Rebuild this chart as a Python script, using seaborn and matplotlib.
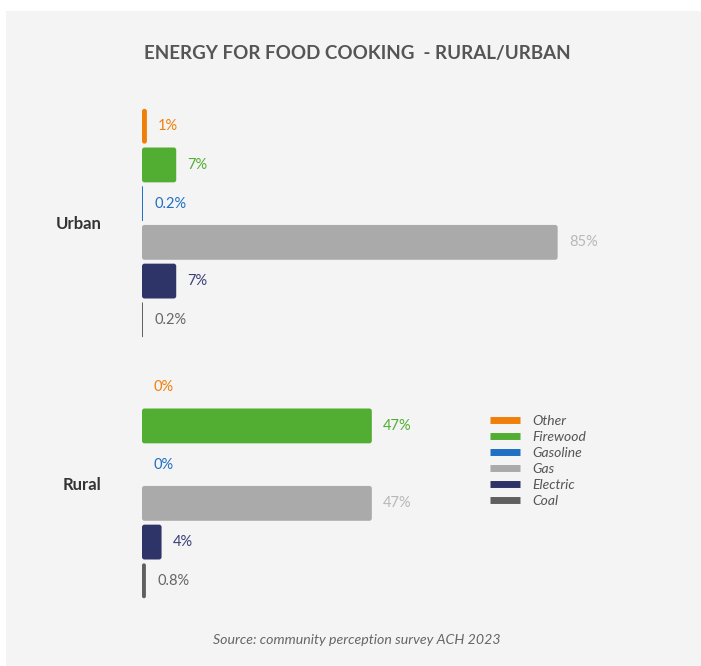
import matplotlib
matplotlib.use("Agg")
import matplotlib.pyplot as plt
from matplotlib.patches import Rectangle, FancyBboxPatch
from matplotlib.lines import Line2D
import pandas as pd
import seaborn as sns

# Survey data: share of households by cooking energy source
areas = ["Urban", "Rural"]
sources = ["Other", "Firewood", "Gasoline", "Gas", "Electric", "Coal"]
urban_values = [1, 7, 0.2, 85, 7, 0.2]
rural_values = [0, 47, 0, 47, 4, 0.8]

bar_colors = ["#f07f09", "#52ae32", "#1f6fc5", "#aaaaaa", "#2f3468", "#5f5f5f"]
label_colors = ["#f07f09", "#52ae32", "#1f6fc5", "#b8b8b8", "#3a3f78", "#666666"]

df = pd.DataFrame({
    "area": ["Urban"] * len(sources) + ["Rural"] * len(sources),
    "source": sources * 2,
    "value": urban_values + rural_values,
})

sns.set_theme(style="white")
plt.rcParams["font.family"] = ["Lato", "DejaVu Sans"]

W, H = 701, 666
fig = plt.figure(figsize=(W / 100, H / 100), dpi=100, facecolor="white")
fig.patches.append(Rectangle((6 / W, 0), 1 - 6 / W, 1 - 11 / H,
                             transform=fig.transFigure, facecolor="#f4f4f4",
                             edgecolor="none", zorder=-10))

# category spacing: Urban centred at 223 px, Rural at 484 px
top_px, bot_px = 66.4, 640.6
left_px, right_px = 142, 631
ax = fig.add_axes([left_px / W, 1 - bot_px / H,
                   (right_px - left_px) / W, (bot_px - top_px) / H])
ax.set_facecolor("none")

sns.barplot(data=df, y="area", x="value", hue="source", order=areas,
            hue_order=sources, palette=bar_colors, orient="h",
            width=0.89, gap=0.1, saturation=1, linewidth=0,
            legend=False, ax=ax)

ax.set_xlim(0, 100)
ax.set_ylim(1.6, -0.6)
for s in ax.spines.values():
    s.set_visible(False)
ax.set_xticks([])
ax.set_xlabel("")
ax.set_ylabel("")
ax.tick_params(axis="y", length=0, pad=29)
for t in ax.get_yticklabels():
    t.set_fontsize(12)
    t.set_fontweight("bold")
    t.set_color("#333333")

for cont, col in zip(ax.containers, label_colors):
    vals = [p.get_width() for p in cont]
    ax.bar_label(cont, labels=[f"{v:g}%" for v in vals], padding=8,
                 color=col, fontsize=10.5)

# swap the square bars for ones with softly rounded corners
px_per_x = (right_px - left_px) / 100.0
px_per_y = (bot_px - top_px) / 2.2
aspect = px_per_x / px_per_y
radius = 2.5 / px_per_x
for cont in ax.containers:
    for p in list(cont):
        x, y, w, h = p.get_x(), p.get_y(), p.get_width(), p.get_height()
        p.set_visible(False)
        if w <= 0:
            continue
        r = min(radius, w / 2)
        ax.add_patch(FancyBboxPatch((x, y), w, h,
                                    boxstyle=f"round,pad=0,rounding_size={r}",
                                    mutation_aspect=aspect,
                                    facecolor=p.get_facecolor(),
                                    edgecolor="none", zorder=2))

fig.text(357 / W, 1 - 53 / H, "ENERGY FOR FOOD COOKING  - RURAL/URBAN",
         ha="center", va="center", fontsize=13.5, fontweight="bold",
         color="#555555")
fig.text(357 / W, 1 - 640 / H, "Source: community perception survey ACH 2023",
         ha="center", va="center", fontsize=10.2, style="italic",
         color="#666666")

handles = [Line2D([0], [0], color=c, lw=5, solid_capstyle="butt")
           for c in bar_colors]
leg = fig.legend(handles, sources, loc="upper left",
                 bbox_to_anchor=(477 / W, 1 - 402 / H), frameon=False,
                 handlelength=2.2, handletextpad=0.9, labelspacing=0.3,
                 prop={"style": "italic", "size": 10})
for t in leg.get_texts():
    t.set_color("#555555")

fig.savefig("out.png", dpi=100, facecolor=fig.get_facecolor())
